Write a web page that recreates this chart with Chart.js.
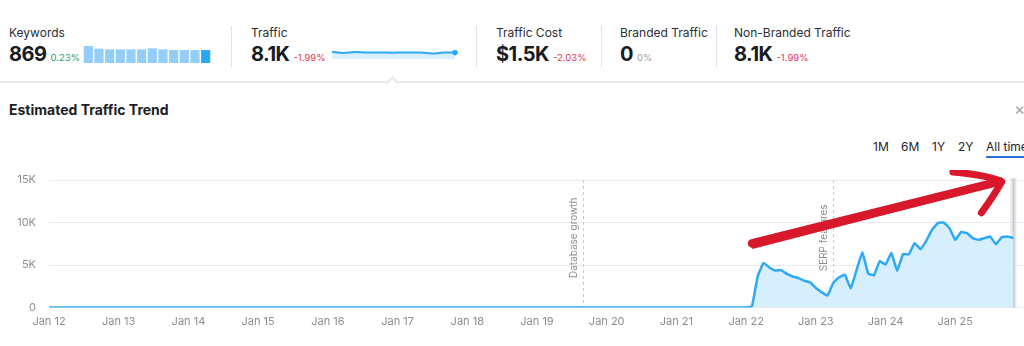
<!DOCTYPE html>
<html>
<head>
<meta charset="utf-8">
<script src="https://cdn.jsdelivr.net/npm/chart.js@4/dist/chart.umd.min.js"></script>
<style>
  body { margin: 0; width: 1024px; height: 346px; overflow: hidden; background: #fff;
         font-family: Inter, "Noto Sans", sans-serif; color: #181b22; position: relative; }
  .abs { position: absolute; white-space: nowrap; }
  .label { font-size: 12px; line-height: 12px; color: #2b2e36; top: 27px; }
  .row { top: 44px; font-size: 20px; line-height: 21px; font-weight: 700; letter-spacing: -0.5px; }
  .pct { font-size: 9.5px; font-weight: 400; letter-spacing: 0; margin-left: 4px; }
  .up { color: #1e9e6f; } .down { color: #e2345a; } .flat { color: #a0a0a0; }
  .divider { top: 26px; width: 1px; height: 41px; background: #e2e2e6; }
  .hline { left: 0; top: 81px; width: 1024px; height: 2px; background: #e7e7eb; }
  .caret { left: 388px; top: 78px; width: 7px; height: 7px; background: #fff;
           border-left: 2px solid #e7e7eb; border-top: 2px solid #e7e7eb; transform: rotate(45deg); }
  .title { left: 9px; top: 103px; font-size: 14px; line-height: 14px; font-weight: 700; color: #1b1e26; }
  .close { left: 1014px; top: 101px; font-size: 17px; line-height: 17px; color: #a3a3a8; }
  .range { top: 141px; font-size: 12px; line-height: 12px; color: #1f222a; }
  .under { left: 986px; top: 156px; width: 40px; height: 2px; background: #2a6fdb; }
</style>
</head>
<body>
<div class="abs label" style="left:9px">Keywords</div>
<div class="abs row" style="left:9px">869<span class="pct up">0.23%</span></div>
<canvas id="kwBars" class="abs" width="128" height="17" style="left:83px;top:46px"></canvas>
<div class="abs divider" style="left:231px"></div>

<div class="abs label" style="left:251px">Traffic</div>
<div class="abs row" style="left:251px">8.1K<span class="pct down">-1.99%</span></div>
<canvas id="trSpark" class="abs" width="131" height="17" style="left:328px;top:46px"></canvas>
<div class="abs divider" style="left:476px"></div>

<div class="abs label" style="left:496px">Traffic Cost</div>
<div class="abs row" style="left:496px">$1.5K<span class="pct down">-2.03%</span></div>
<div class="abs divider" style="left:601px"></div>

<div class="abs label" style="left:620px">Branded Traffic</div>
<div class="abs row" style="left:620px">0<span class="pct flat">0%</span></div>
<div class="abs divider" style="left:716px"></div>

<div class="abs label" style="left:734px">Non-Branded Traffic</div>
<div class="abs row" style="left:734px">8.1K<span class="pct down">-1.99%</span></div>

<div class="abs hline"></div>
<div class="abs caret"></div>

<div class="abs title">Estimated Traffic Trend</div>
<div class="abs close">×</div>
<div class="abs range" style="left:873px">1M</div>
<div class="abs range" style="left:901px">6M</div>
<div class="abs range" style="left:932px">1Y</div>
<div class="abs range" style="left:958px">2Y</div>
<div class="abs range" style="left:986px">All time</div>
<div class="abs under"></div>

<canvas id="trend" class="abs" width="1030" height="176" style="left:0;top:170px"></canvas>

<script>
// mini keyword history (last 12 months)
const kwHistory = [1140, 960, 915, 915, 915, 915, 985, 915, 870, 870, 867, 869];
// mini traffic history (last 12 months)
const trafficHistory = [9350, 7700, 8850, 8300, 8200, 8150, 8150, 8200, 8150, 7000, 8300, 8160];

// monthly estimated traffic, Jan 2012 .. Nov 2025
const startYear = 2012;
const trafficValues = [
  0, 0, 0, 0, 0, 0, 0, 0, 0, 0, 0, 0,   // 2012
  0, 0, 0, 0, 0, 0, 0, 0, 0, 0, 0, 0,   // 2013
  0, 0, 0, 0, 0, 0, 0, 0, 0, 0, 0, 0,   // 2014
  0, 0, 0, 0, 0, 0, 0, 0, 0, 0, 0, 0,   // 2015
  0, 0, 0, 0, 0, 0, 0, 0, 0, 0, 0, 0,   // 2016
  0, 0, 0, 0, 0, 0, 0, 0, 0, 0, 0, 0,   // 2017
  0, 0, 0, 0, 0, 0, 0, 0, 0, 0, 0, 0,   // 2018
  0, 0, 0, 0, 0, 0, 0, 0, 0, 0, 0, 0,   // 2019
  0, 0, 0, 0, 0, 0, 0, 0, 0, 0, 0, 0,   // 2020
  0, 0, 0, 0, 0, 0, 0, 0, 0, 0, 0, 0,   // 2021
  0, 150, 3700, 5250, 4700, 4350, 4400, 3950, 3650, 3450, 3150, 2950,        // 2022
  2300, 1800, 1400, 2900, 3550, 3850, 2250, 4400, 6500, 4000, 3800, 5450,    // 2023
  5050, 6400, 4300, 6300, 6250, 7580, 6870, 7850, 9140, 9930, 10000, 9340,   // 2024
  7960, 8870, 8750, 8160, 7960, 8160, 8350, 7450, 8280, 8350, 8160           // 2025
];

const tickLabels = ['Jan 12', 'Jan 13', 'Jan 14', 'Jan 15', 'Jan 16', 'Jan 17', 'Jan 18',
                    'Jan 19', 'Jan 20', 'Jan 21', 'Jan 22', 'Jan 23', 'Jan 24', 'Jan 25'];
const yTicks = [0, 5000, 10000, 15000];
const yTickLabels = ['0', '5K', '10K', '15K'];

const eventLabels = ['Database growth', 'SERP features'];
const eventDates = ['2019-09', '2023-04'];

// arrow annotation drawn over the chart, in [month index, traffic] units
const arrowShaft = [[121, 7550], [163.7, 14850]];
const arrowHead = [[155.6, 15950], [161.5, 15600], [164, 14800], [160.5, 11150]];

Chart.defaults.font.family = 'Inter, "Noto Sans", sans-serif';
Chart.defaults.animation = false;

function monthIndex(s) {
    let parts = s.split('-').map(Number);
    return (parts[0] - startYear) * 12 + parts[1] - 1;
}

new Chart(document.getElementById('kwBars'), {
    type: 'bar',
    data: {
        labels: kwHistory.map((_, i) => i),
        datasets: [{
            data: kwHistory,
            backgroundColor: kwHistory.map((_, i) => i === kwHistory.length - 1 ? '#2aa8f8' : '#93cefb'),
            categoryPercentage: 1,
            barPercentage: 0.86
        }]
    },
    options: {
        responsive: false,
        plugins: { legend: { display: false }, tooltip: { enabled: false } },
        scales: { x: { display: false }, y: { display: false, min: 0, max: 1140 } }
    }
});

new Chart(document.getElementById('trSpark'), {
    type: 'line',
    data: {
        labels: trafficHistory.map((_, i) => i),
        datasets: [{
            data: trafficHistory,
            borderColor: '#2ea9f8',
            borderWidth: 2,
            backgroundColor: '#d8effd',
            fill: 'origin',
            tension: 0.3,
            pointRadius: trafficHistory.map((_, i) => i === trafficHistory.length - 1 ? 2.8 : 0),
            pointBackgroundColor: '#2ea9f8',
            pointBorderWidth: 0
        }]
    },
    options: {
        responsive: false,
        layout: { padding: { right: 3 } },
        plugins: { legend: { display: false }, tooltip: { enabled: false } },
        scales: { x: { display: false }, y: { display: false, min: 0, max: 11500 } }
    }
});

const eventLines = {
    id: 'eventLines',
    beforeDatasetsDraw(chart) {
        let ctx = chart.ctx;
        let area = chart.chartArea;
        let x = chart.scales.x, y = chart.scales.y;
        ctx.save();
        for (let i = 0; i < eventLabels.length; i++) {
            let px = Math.round(x.getPixelForValue(monthIndex(eventDates[i]))) + 0.5;
            ctx.strokeStyle = '#c9c9ce';
            ctx.lineWidth = 1;
            ctx.setLineDash([3, 3]);
            ctx.beginPath();
            ctx.moveTo(px, area.top);
            ctx.lineTo(px, area.bottom);
            ctx.stroke();
            ctx.setLineDash([]);
            ctx.save();
            ctx.translate(px - 10, y.getPixelForValue(8200));
            ctx.rotate(-Math.PI / 2);
            ctx.fillStyle = '#8c8c92';
            ctx.font = '10px Inter, "Noto Sans", sans-serif';
            ctx.textAlign = 'center';
            ctx.textBaseline = 'middle';
            ctx.fillText(eventLabels[i], 0, 0);
            ctx.restore();
        }
        // hover band on the last month
        let last = x.getPixelForValue(trafficValues.length - 1);
        ctx.fillStyle = 'rgba(205,210,215,0.55)';
        ctx.fillRect(last - 3, area.top - 2, 6, area.bottom - area.top + 2);
        ctx.fillStyle = '#c3c8cd';
        ctx.fillRect(last - 0.5, area.top - 2, 1.5, area.bottom - area.top + 2);
        ctx.restore();
    }
};

const arrowNote = {
    id: 'arrowNote',
    afterDraw(chart) {
        let ctx = chart.ctx;
        let x = chart.scales.x, y = chart.scales.y;
        let p = pt => [x.getPixelForValue(pt[0]), y.getPixelForValue(pt[1])];
        let s0 = p(arrowShaft[0]), s1 = p(arrowShaft[1]);
        let h = arrowHead.map(p);
        ctx.save();
        ctx.lineCap = 'round';
        ctx.lineJoin = 'round';
        ctx.strokeStyle = '#d9182b';
        ctx.lineWidth = 8.5;
        ctx.beginPath();
        ctx.moveTo(s0[0], s0[1]);
        ctx.lineTo(s1[0], s1[1]);
        ctx.stroke();
        ctx.lineWidth = 3;
        ctx.beginPath();
        ctx.moveTo(s0[0] + 1, s0[1] + 4);
        ctx.lineTo(s1[0] - 30, s1[1] + 10);
        ctx.stroke();
        ctx.lineWidth = 7;
        ctx.beginPath();
        ctx.moveTo(h[0][0], h[0][1]);
        ctx.quadraticCurveTo(h[1][0], h[1][1], h[2][0], h[2][1]);
        ctx.quadraticCurveTo(h[2][0] - 8, h[2][1] + 14, h[3][0], h[3][1]);
        ctx.stroke();
        ctx.restore();
    }
};

new Chart(document.getElementById('trend'), {
    type: 'line',
    data: {
        datasets: [{
            data: trafficValues.map((v, i) => ({ x: i, y: v })),
            borderColor: '#2ea9f8',
            borderWidth: 2.5,
            backgroundColor: '#d7effd',
            fill: 'origin',
            tension: 0.1,
            borderJoinStyle: 'round',
            pointRadius: 0
        }]
    },
    options: {
        responsive: false,
        layout: { padding: { top: 10, right: 5, left: 0, bottom: 0 } },
        plugins: { legend: { display: false }, tooltip: { enabled: false } },
        scales: {
            x: {
                type: 'linear',
                min: 0,
                max: 168,
                afterFit: scale => {
                    scale.height = 38.5;
                    scale.paddingLeft = 0;
                    scale.paddingRight = 0;
                },
                afterBuildTicks: scale => { scale.ticks = tickLabels.map((_, i) => ({ value: i * 12 })); },
                ticks: {
                    padding: 8,
                    color: '#8c8c92',
                    font: { size: 11 },
                    maxRotation: 0,
                    autoSkip: false,
                    callback: (v, i) => tickLabels[i]
                },
                grid: { display: false, drawTicks: false },
                border: { display: false }
            },
            y: {
                min: 0,
                max: 15000,
                afterFit: scale => {
                    scale.width = 49;
                    scale.paddingTop = 0;
                    scale.paddingBottom = 0;
                },
                afterBuildTicks: scale => { scale.ticks = yTicks.map(v => ({ value: v })); },
                ticks: {
                    padding: 13,
                    color: '#8c8c92',
                    font: { size: 11 },
                    callback: (v, i) => yTickLabels[i]
                },
                grid: { color: '#e9e9ef', drawTicks: false },
                border: { display: false }
            }
        }
    },
    plugins: [eventLines, arrowNote]
});
</script>
</body>
</html>
